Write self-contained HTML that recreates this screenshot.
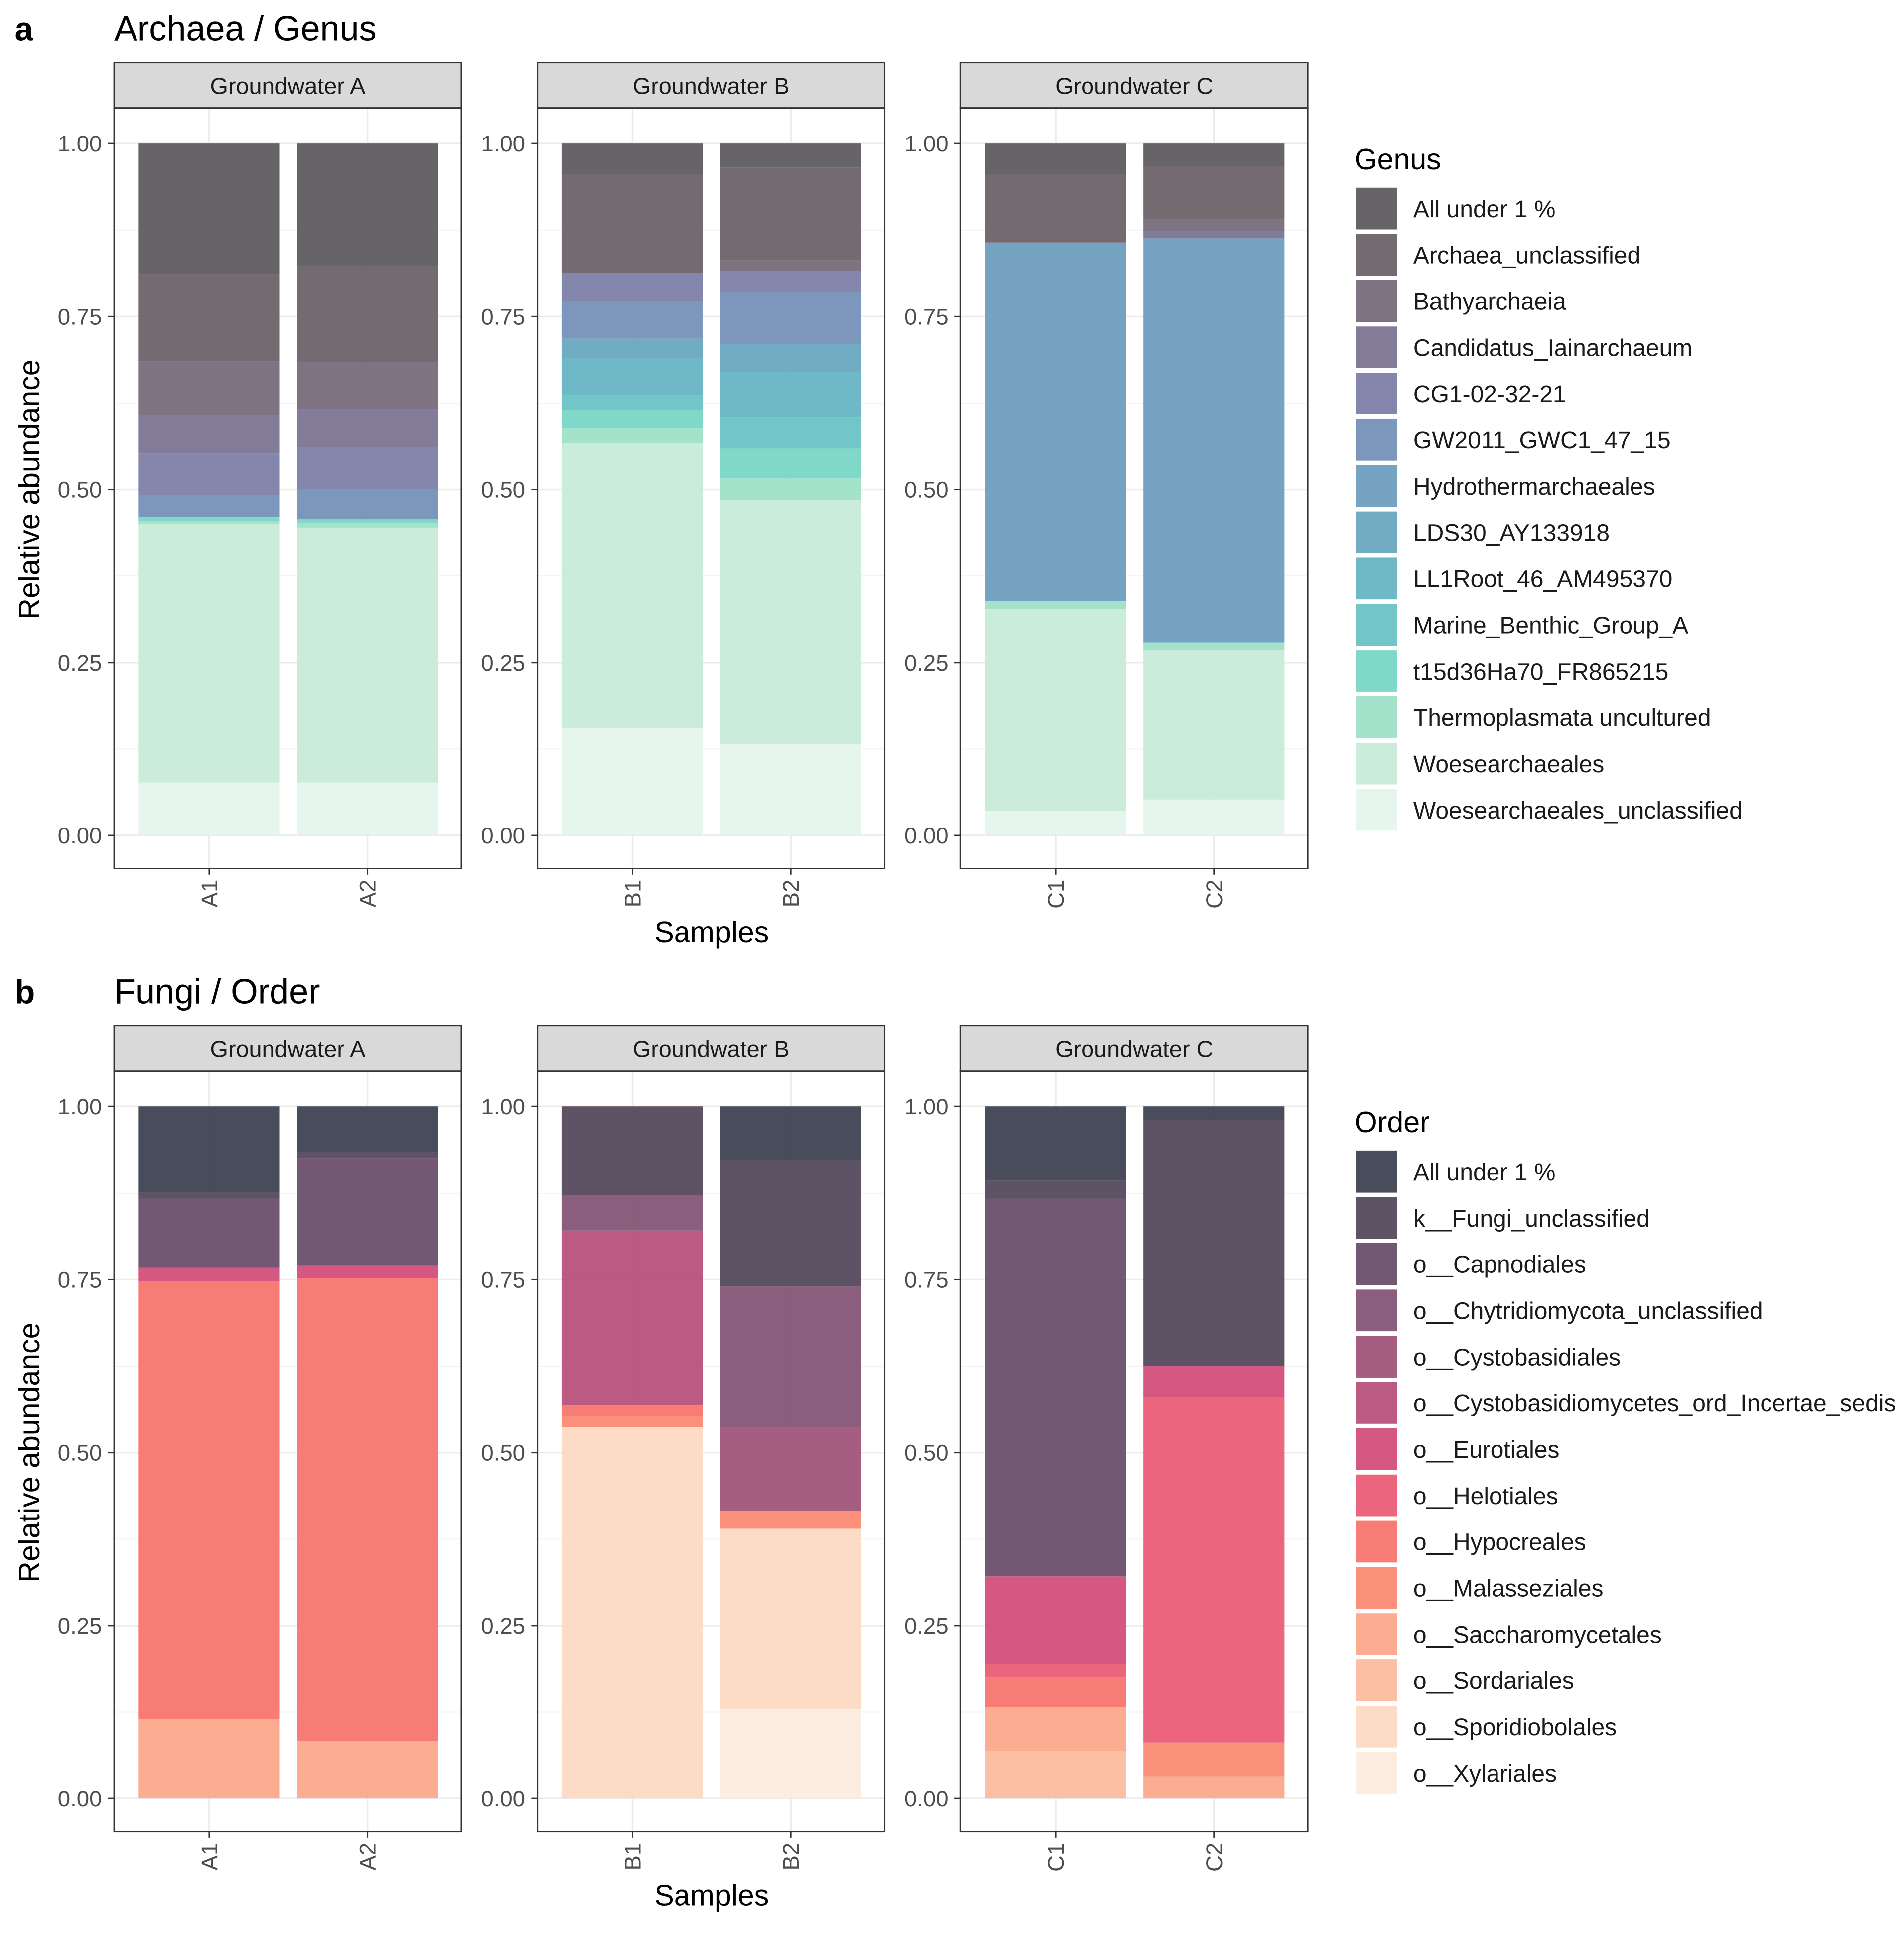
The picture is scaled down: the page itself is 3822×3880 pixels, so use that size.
<!DOCTYPE html>
<html><head><meta charset="utf-8"><style>
html,body{margin:0;padding:0;background:#fff}
svg{display:block}
text{font-family:"Liberation Sans",Arial,sans-serif}
</style></head><body>
<svg id="chart" width="3822" height="3880" viewBox="0 0 1552 1575.6" xmlns="http://www.w3.org/2000/svg"></svg>
<script>
// ---- Archaea data (stack order bottom -> top) ----
const archaeaTaxa = ["Woesearchaeales_unclassified","Woesearchaeales","Thermoplasmata uncultured","t15d36Ha70_FR865215","Marine_Benthic_Group_A","LL1Root_46_AM495370","LDS30_AY133918","Hydrothermarchaeales","GW2011_GWC1_47_15","CG1-02-32-21","Candidatus_Iainarchaeum","Bathyarchaeia","Archaea_unclassified","All under 1 %"];
const archaeaColors = ["#e6f5ec","#c8ebd8","#a0e0c9","#79d6c5","#6cc3c5","#67b4c4","#6aa8bf","#709ebf","#7590b8","#7d7fa8","#7b7592","#776b7c","#6d6369","#5f5c5f"];
const samples = ["A1","A2","B1","B2","C1","C2"];
const groups = ["Groundwater A","Groundwater B","Groundwater C"];
const archaeaA1 = [0.0765,0.3735,0.005,0.005,0,0,0,0,0.032,0.06,0.055,0.078,0.126,0.189];
const archaeaA2 = [0.0765,0.3685,0.007,0.005,0,0,0,0,0.044,0.06,0.055,0.068,0.139,0.177];
const archaeaB1 = [0.155,0.412,0.021,0.027,0.022,0.053,0.028,0,0.054,0.041,0,0,0.143,0.044];
const archaeaB2 = [0.132,0.353,0.031,0.043,0.045,0.066,0.040,0,0.075,0.031,0,0.015,0.134,0.035];
const archaeaC1 = [0.036,0.291,0.012,0,0,0,0,0.518,0,0,0,0,0.099,0.044];
const archaeaC2 = [0.052,0.216,0.011,0,0,0,0,0.584,0,0,0.011,0.016,0.077,0.033];
// ---- Fungi data ----
const fungiTaxa = ["o__Xylariales","o__Sporidiobolales","o__Sordariales","o__Saccharomycetales","o__Malasseziales","o__Hypocreales","o__Helotiales","o__Eurotiales","o__Cystobasidiomycetes_ord_Incertae_sedis","o__Cystobasidiales","o__Chytridiomycota_unclassified","o__Capnodiales","k__Fungi_unclassified","All under 1 %"];
const fungiColors = ["#fcece2","#fcd9c4","#fdbc9e","#fca88a","#fb8b73","#f8756f","#e95d76","#d24f7b","#b8527a","#a0557a","#845575","#6b4f6b","#544a5c","#3f4252"];
const fungiA1 = [0,0,0,0.115,0,0.633,0,0.019,0,0,0,0.100,0.009,0.124];
const fungiA2 = [0,0,0,0.083,0,0.669,0,0.018,0,0,0,0.155,0.009,0.066];
const fungiB1 = [0,0.537,0,0,0.015,0.016,0,0,0.253,0,0.051,0,0.128,0];
const fungiB2 = [0.129,0.261,0,0,0.026,0,0,0,0,0.121,0.203,0,0.182,0.078];
const fungiC1 = [0,0,0.069,0.063,0,0.043,0.019,0.127,0,0,0,0.546,0.026,0.107];
const fungiC2 = [0,0,0,0.032,0.049,0,0.499,0.045,0,0,0,0,0.355,0.020];
const yTicks = [0,0.25,0.5,0.75,1.0];
const yTickLabels = ["0.00","0.25","0.50","0.75","1.00"];

const NS="http://www.w3.org/2000/svg";
const svg=document.getElementById('chart');
function mk(tag,attrs,parent){const e=document.createElementNS(NS,tag);for(const k in attrs)e.setAttribute(k,attrs[k]);(parent||svg).appendChild(e);return e;}
function txt(s,attrs,parent){const e=mk('text',attrs,parent);e.textContent=s;return e;}

const panelX=[93,438,783], panelW=283;
function drawFigure(oy,letter,title,taxa,colors,series,legendTitle,prefix){
  const y1=117+oy, y0=681+oy;
  const yScale=v=>y0-(y0-y1)*v;
  let t=txt(letter,{x:12,y:33+oy,'font-size':27,'font-weight':'bold'});
  
  
  t=txt(title,{x:93,y:33+oy,'font-size':28.5});
  
  
  for(let p=0;p<3;p++){
    const px=panelX[p];
    const g=mk('g',{});
    
    
    const strip=mk('rect',{x:px,y:51+oy,width:panelW,height:37,fill:'#d9d9d9',stroke:'#333',"stroke-width":1.2},g);
    
    
    txt(groups[p],{x:px+panelW/2,y:76.5+oy,'font-size':19,'text-anchor':'middle',fill:'#1a1a1a'},g);
    mk('rect',{x:px,y:88+oy,width:panelW,height:620,fill:'#fff'},g);
    for(const v of [0.125,0.375,0.625,0.875]) mk('line',{x1:px,x2:px+panelW,y1:yScale(v),y2:yScale(v),stroke:'#f2f2f2','stroke-width':0.8},g);
    for(const v of yTicks) mk('line',{x1:px,x2:px+panelW,y1:yScale(v),y2:yScale(v),stroke:'#ebebeb','stroke-width':1.4},g);
    for(let b=0;b<2;b++){const cx=px+77.5+b*129; mk('line',{x1:cx,x2:cx,y1:88+oy,y2:708+oy,stroke:'#ebebeb','stroke-width':1.4},g);}
    for(let b=0;b<2;b++){
      const si=p*2+b, vals=series[si], bx=px+20+b*129;
      let cum=0;
      for(let k=0;k<vals.length;k++){
        if(vals[k]<=0) continue;
        const top=yScale(cum+vals[k]), bot=yScale(cum);
        const r=mk('rect',{x:bx,y:top,width:115,height:bot-top,fill:colors[k],'fill-opacity':0.95},g);
        
        
        cum+=vals[k];
      }
      const cx=bx+57.5;
      mk('line',{x1:cx,x2:cx,y1:708+oy,y2:713+oy,stroke:'#333','stroke-width':1.2},g);
      const lab=txt(samples[si],{transform:`translate(${cx+6.5},${717+oy}) rotate(-90)`,'font-size':18.5,'text-anchor':'end',fill:'#4d4d4d'},g);
      
      
    }
    mk('rect',{x:px,y:88+oy,width:panelW,height:620,fill:'none',stroke:'#333','stroke-width':1.2},g);
    for(let i=0;i<yTicks.length;i++){
      const yy=yScale(yTicks[i]);
      mk('line',{x1:px-5,x2:px,y1:yy,y2:yy,stroke:'#333','stroke-width':1.2},g);
      const tl=txt(yTickLabels[i],{x:px-10,y:yy+6.5,'font-size':18.5,'text-anchor':'end',fill:'#4d4d4d'},g);
      
      
    }
  }
  t=txt('Relative abundance',{transform:`translate(32,${(y0+y1)/2}) rotate(-90)`,'font-size':24,'text-anchor':'middle'});
  
  
  t=txt('Samples',{x:580,y:768+oy,'font-size':24,'text-anchor':'middle'});
  
  
  const lg=mk('g',{});
  
  
  txt(legendTitle,{x:1104,y:138+oy,'font-size':24},lg);
  const n=taxa.length;
  for(let i=0;i<n;i++){
    const k=n-1-i, ky=153+oy+i*37.7;
    const e=mk('g',{},lg);
    
    
    mk('rect',{x:1105,y:ky,width:34,height:34,fill:colors[k],'fill-opacity':0.95},e);
    txt(taxa[k],{x:1152,y:ky+24,'font-size':19.5,fill:'#1a1a1a'},e);
  }
}
drawFigure(0,'a','Archaea / Genus',archaeaTaxa,archaeaColors,[archaeaA1,archaeaA2,archaeaB1,archaeaB2,archaeaC1,archaeaC2],'Genus','archaea');
drawFigure(785,'b','Fungi / Order',fungiTaxa,fungiColors,[fungiA1,fungiA2,fungiB1,fungiB2,fungiC1,fungiC2],'Order','fungi');
</script>
</body></html>
